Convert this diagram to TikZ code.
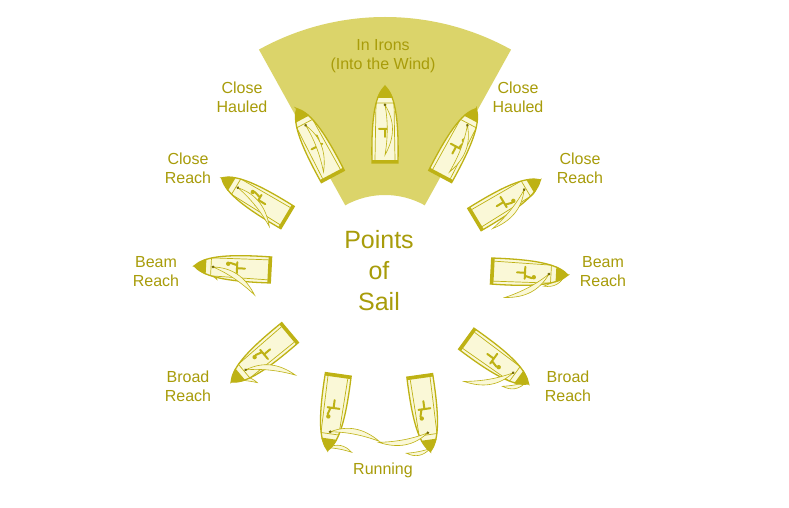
\documentclass[tikz,border=0pt]{standalone}
\usepackage{fontspec}
\setmainfont{Liberation Sans}
\definecolor{sector}{RGB}{219,212,106}
\definecolor{olive}{RGB}{168,156,10}
\definecolor{boatline}{RGB}{190,178,20}
\definecolor{pale}{RGB}{250,248,215}
\newcommand\myboat[4]{%
\begin{scope}[shift={(#1,{508-#2})},rotate={#3-90}]
 \begin{scope}[shift={(0,36)},rotate=#4]
  \draw[boatline,fill=pale,line width=0.6pt] (0,0) .. controls (8,6) and (16,6) .. (24,0) .. controls (16,1) and (8,1) .. cycle;
 \end{scope}
 \draw[boatline,fill=pale,line width=1.3pt] (0,39) .. controls (9,30) and (14,12) .. (13,-38) -- (-13,-38) .. controls (-14,12) and (-9,30) .. cycle;
 \fill[boatline] (0,39) .. controls (4,35) and (6,31) .. (8,27) -- (-8,27) .. controls (-6,31) and (-4,35) .. cycle;
 \fill[boatline] (-13,-38) rectangle (13,-35);
 \draw[boatline,line width=0.7pt] (-9,22) -- (-10,-35) (10,-35) -- (9,22) (-9,22) -- (9,22);
 \draw[boatline,line width=2pt,line cap=round] (-6,-4) -- (6,-4) (0,-4) -- (0,-12) (3,-4) -- (5,3);
 \fill[boatline] (4,5) circle (2.2);
 \begin{scope}[shift={(0,20)},rotate=#4]
  \draw[boatline,fill=pale,line width=0.6pt] (0,0) .. controls (16,10) and (32,10) .. (50,0) .. controls (32,3) and (16,3) .. cycle;
 \end{scope}
 \fill[olive!70!black] (0,20) circle (1.5);
\end{scope}}
\tikzset{lbl/.style={text=olive,font=\fontsize{16}{19}\selectfont,align=center}}
\begin{document}
\begin{tikzpicture}[x=1pt,y=1pt]
\useasboundingbox (0,0) rectangle (789,508);
\fill[white] (0,0) rectangle (789,508);
\fill[sector] (385,231) ++(61:260) arc[start angle=61,end angle=119,radius=260] -- ++(-61:178) arc[start angle=119,end angle=61,radius=82] -- cycle;
\node[lbl] (irons) at (383,452) {In Irons\\(Into the Wind)};
\node[lbl] (chl) at (242,411) {Close\\Hauled};
\node[lbl] (chr) at (518,411) {Close\\Hauled};
\node[lbl] (crl) at (188,340) {Close\\Reach};
\node[lbl] (crr) at (580,340) {Close\\Reach};
\node[lbl] (bml) at (156,236) {Beam\\Reach};
\node[lbl] (bmr) at (603,236) {Beam\\Reach};
\node[lbl] (brl) at (188,122) {Broad\\Reach};
\node[lbl] (brr) at (568,122) {Broad\\Reach};
\node[lbl] (run) at (383,38) {Running};
\node[text=olive,font=\fontsize{25}{31}\selectfont,align=center] (title) at (379,237) {Points\\of\\Sail};
\myboat{385}{125}{90}{-90}
\myboat{315}{143}{118}{-97}
\myboat{458}{143}{62}{-83}
\myboat{255}{198}{149}{-110}
\myboat{507}{200}{31}{-70}
\myboat{233}{268}{177}{-121}
\myboat{529}{273}{357}{-59}
\myboat{261}{357}{220}{-136}
\myboat{497}{361}{-36}{-44}
\myboat{333}{412}{262}{177}
\myboat{425}{413}{278}{3}
\end{tikzpicture}
\end{document}
